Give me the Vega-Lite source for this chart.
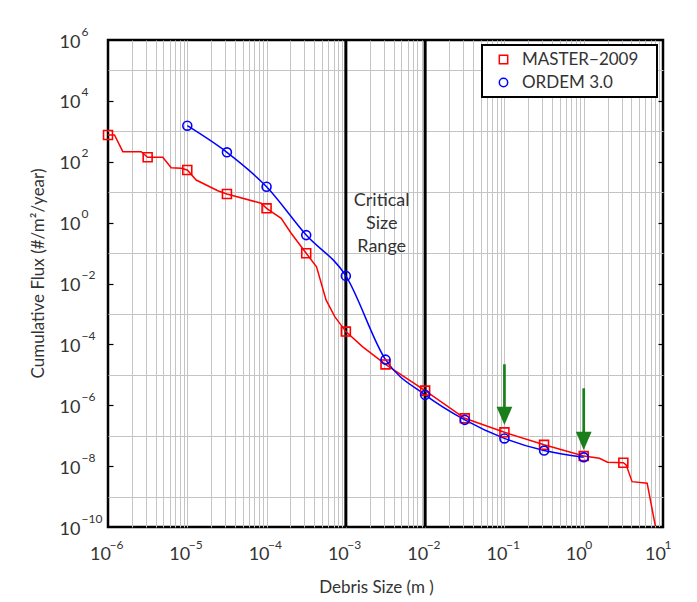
{
  "$schema": "https://vega.github.io/schema/vega-lite/v6.json",
  "width": 555,
  "height": 487,
  "autosize": {"type": "none"},
  "padding": {"left": 108, "top": 40, "right": 34, "bottom": 75},
  "background": "white",
  "config": {
    "view": {"stroke": "black", "strokeWidth": 2.5},
    "font": "Lato",
    "axis": {
      "labelFont": "Lato", "titleFont": "Lato", "labelColor": "#333333", "titleColor": "#333333",
      "gridColor": "#c4c4c4", "gridWidth": 1, "domain": false, "ticks": false,
      "labelFlush": false, "labelOverlap": false, "titleFontWeight": "normal",
      "titleFontSize": 17, "labelFontSize": 18
    },
    "legend": {"strokeWidth": 2}
  },
  "datasets": {
    "flux": [
      {"series": "MASTER−2009", "size": 1e-6, "flux": 759, "marker": true},
      {"series": "MASTER−2009", "size": 1.208e-6, "flux": 759, "marker": false},
      {"series": "MASTER−2009", "size": 1.538e-6, "flux": 213.8, "marker": false},
      {"series": "MASTER−2009", "size": 2.624e-6, "flux": 213.8, "marker": false},
      {"series": "MASTER−2009", "size": 3.162e-6, "flux": 140.3, "marker": true},
      {"series": "MASTER−2009", "size": 4.909e-6, "flux": 140.3, "marker": false},
      {"series": "MASTER−2009", "size": 6.266e-6, "flux": 63.8, "marker": false},
      {"series": "MASTER−2009", "size": 8.375e-6, "flux": 61.0, "marker": false},
      {"series": "MASTER−2009", "size": 1e-5, "flux": 53.7, "marker": true},
      {"series": "MASTER−2009", "size": 1.294e-5, "flux": 25.1, "marker": false},
      {"series": "MASTER−2009", "size": 2.427e-5, "flux": 11.2, "marker": false},
      {"series": "MASTER−2009", "size": 3.162e-5, "flux": 8.71, "marker": true},
      {"series": "MASTER−2009", "size": 8.551e-5, "flux": 4.32, "marker": false},
      {"series": "MASTER−2009", "size": 1e-4, "flux": 2.95, "marker": true},
      {"series": "MASTER−2009", "size": 1.528e-4, "flux": 1.38, "marker": false},
      {"series": "MASTER−2009", "size": 2.042e-4, "flux": 0.447, "marker": false},
      {"series": "MASTER−2009", "size": 3.162e-4, "flux": 0.0984, "marker": true},
      {"series": "MASTER−2009", "size": 4.266e-4, "flux": 0.0355, "marker": false},
      {"series": "MASTER−2009", "size": 5.623e-4, "flux": 0.00288, "marker": false},
      {"series": "MASTER−2009", "size": 7.244e-4, "flux": 0.000813, "marker": false},
      {"series": "MASTER−2009", "size": 1e-3, "flux": 0.000263, "marker": true},
      {"series": "MASTER−2009", "size": 1.633e-3, "flux": 8.32e-5, "marker": false},
      {"series": "MASTER−2009", "size": 3.162e-3, "flux": 2.19e-5, "marker": true},
      {"series": "MASTER−2009", "size": 1e-2, "flux": 3.02e-6, "marker": true},
      {"series": "MASTER−2009", "size": 3.162e-2, "flux": 3.72e-7, "marker": true},
      {"series": "MASTER−2009", "size": 0.1, "flux": 1.29e-7, "marker": true},
      {"series": "MASTER−2009", "size": 0.3162, "flux": 5.01e-8, "marker": true},
      {"series": "MASTER−2009", "size": 1, "flux": 2.14e-8, "marker": true},
      {"series": "MASTER−2009", "size": 1.578, "flux": 1.82e-8, "marker": false},
      {"series": "MASTER−2009", "size": 1.995, "flux": 1.35e-8, "marker": false},
      {"series": "MASTER−2009", "size": 3.162, "flux": 1.29e-8, "marker": true},
      {"series": "MASTER−2009", "size": 3.428, "flux": 1.10e-8, "marker": false},
      {"series": "MASTER−2009", "size": 4.074, "flux": 3.09e-9, "marker": false},
      {"series": "MASTER−2009", "size": 6.31, "flux": 2.75e-9, "marker": false},
      {"series": "MASTER−2009", "size": 8.017, "flux": 1.07e-10, "marker": false},
      {"series": "ORDEM 3.0", "size": 1e-5, "flux": 1531, "marker": true},
      {"series": "ORDEM 3.0", "size": 3.162e-5, "flux": 204.2, "marker": true},
      {"series": "ORDEM 3.0", "size": 1e-4, "flux": 15.1, "marker": true},
      {"series": "ORDEM 3.0", "size": 3.162e-4, "flux": 0.389, "marker": true},
      {"series": "ORDEM 3.0", "size": 1e-3, "flux": 0.0178, "marker": true},
      {"series": "ORDEM 3.0", "size": 3.162e-3, "flux": 3.16e-5, "marker": true},
      {"series": "ORDEM 3.0", "size": 1e-2, "flux": 2.19e-6, "marker": true},
      {"series": "ORDEM 3.0", "size": 3.162e-2, "flux": 3.31e-7, "marker": true},
      {"series": "ORDEM 3.0", "size": 0.1, "flux": 8.13e-8, "marker": true},
      {"series": "ORDEM 3.0", "size": 0.3162, "flux": 3.24e-8, "marker": true},
      {"series": "ORDEM 3.0", "size": 1, "flux": 1.95e-8, "marker": true}
    ],
    "critical": [{"size": 0.001}, {"size": 0.01}],
    "arrows": [
      {"size": 0.1, "top": 2.22e-5, "head": 4.5e-7},
      {"size": 1, "top": 3.61e-6, "head": 6.79e-8}
    ],
    "notes": [{"size": 0.00283, "flux": 5.1, "label": "Critical\nSize\nRange"}]
  },
  "resolve": {"axis": {"x": "independent", "y": "independent"}},
  "layer": [
    {
      "data": {"name": "critical"},
      "mark": {"type": "rule", "color": "black", "strokeWidth": 3},
      "encoding": {
        "x": {"field": "size", "type": "quantitative",
          "scale": {"type": "log", "domain": [1e-6, 10], "nice": false},
          "axis": {"orient": "bottom", "grid": true, "labels": false, "ticks": false, "domain": false, "title": null, "zindex": 0,
            "values": [2e-6,3e-6,4e-6,5e-6,6e-6,7e-6,8e-6,9e-6,1e-5,2e-5,3e-5,4e-5,5e-5,6e-5,7e-5,8e-5,9e-5,1e-4,2e-4,3e-4,4e-4,5e-4,6e-4,7e-4,8e-4,9e-4,1e-3,2e-3,3e-3,4e-3,5e-3,6e-3,7e-3,8e-3,9e-3,1e-2,2e-2,3e-2,4e-2,5e-2,6e-2,7e-2,8e-2,9e-2,0.1,0.2,0.3,0.4,0.5,0.6,0.7,0.8,0.9,1,2,3,4,5,6,7,8,9]}}
      }
    },
    {
      "data": {"name": "flux"},
      "transform": [{"filter": {"field": "series", "equal": "MASTER−2009"}}],
      "mark": {"type": "line", "color": "#ff0000", "strokeWidth": 1.5, "interpolate": "linear"},
      "encoding": {
        "x": {"field": "size", "type": "quantitative",
          "scale": {"type": "log", "domain": [1e-6, 10], "nice": false},
          "axis": {"orient": "bottom", "values": [1e-6,1e-5,1e-4,1e-3,1e-2,0.1,1,10], "labelExpr": "'10'",
            "labelFontSize": 18, "labelAlign": "center", "labelBaseline": "middle", "labelPadding": 27, "labelOffset": -8,
            "grid": false, "title": "Debris Size (m )", "titleFontSize": 17, "titleX": 268, "titleY": 60,
            "titleBaseline": "middle", "titleAlign": "center", "zindex": 1}},
        "y": {"field": "flux", "type": "quantitative",
          "scale": {"type": "log", "domain": [1e-10, 1e6], "nice": false},
          "axis": {"orient": "left", "values": [1e5,1e4,1e3,1e2,1e1,1,0.1,1e-2,1e-3,1e-4,1e-5,1e-6,1e-7,1e-8,1e-9],
            "grid": true,
            "gridOpacity": {"condition": {"test": "round(log(datum.value)/LN10) % 2 != 0", "value": 1}, "value": 0},
            "ticks": true, "tickSize": -5, "tickColor": "black", "tickWidth": 1.2,
            "tickOpacity": {"condition": {"test": "round(log(datum.value)/LN10) % 2 == 0", "value": 1}, "value": 0},
            "labels": false, "domain": false, "title": null, "zindex": 0}}
      }
    },
    {
      "data": {"name": "flux"},
      "transform": [{"filter": {"field": "series", "equal": "ORDEM 3.0"}}],
      "mark": {"type": "line", "color": "#0000ff", "strokeWidth": 1.5, "interpolate": "monotone"},
      "encoding": {
        "x": {"field": "size", "type": "quantitative",
          "scale": {"type": "log", "domain": [1e-6, 10], "nice": false},
          "axis": {"orient": "bottom", "values": [1e-6,1e-5,1e-4,1e-3,1e-2,0.1,1,10],
            "labelExpr": "format(log(datum.value)/LN10,'d')",
            "labelFontSize": 12, "labelAlign": "left", "labelBaseline": "middle", "labelPadding": 17, "labelOffset": 1,
            "grid": false, "title": null, "zindex": 1}},
        "y": {"field": "flux", "type": "quantitative",
          "scale": {"type": "log", "domain": [1e-10, 1e6], "nice": false},
          "axis": {"orient": "left", "values": [1e6,1e4,1e2,1,1e-2,1e-4,1e-6,1e-8,1e-10], "labelExpr": "'10'",
            "labelFontSize": 18, "labelAlign": "right", "labelBaseline": "middle", "labelPadding": 28, "labelOffset": 2,
            "grid": false, "title": "Cumulative Flux (#/m²/year)", "titleFontSize": 17, "titleX": -70, "titleY": 233,
            "titleAngle": 270, "titleAlign": "center", "titleBaseline": "middle", "zindex": 1}}
      }
    },
    {
      "data": {"name": "flux"},
      "transform": [{"filter": "datum.marker"}],
      "mark": {"type": "point", "filled": false, "size": 80, "strokeWidth": 1.6, "opacity": 1},
      "encoding": {
        "x": {"field": "size", "type": "quantitative",
          "scale": {"type": "log", "domain": [1e-6, 10], "nice": false}, "axis": null},
        "y": {"field": "flux", "type": "quantitative",
          "scale": {"type": "log", "domain": [1e-10, 1e6], "nice": false},
          "axis": {"orient": "left", "values": [1e6,1e4,1e2,1,1e-2,1e-4,1e-6,1e-8,1e-10],
            "labelExpr": "format(log(datum.value)/LN10,'d')",
            "labelFontSize": 12, "labelAlign": "left", "labelBaseline": "middle", "labelPadding": 27, "labelOffset": -9,
            "grid": false, "title": null, "zindex": 1}},
        "color": {"field": "series", "type": "nominal",
          "scale": {"domain": ["MASTER−2009", "ORDEM 3.0"], "range": ["#ff0000", "#0000ff"]},
          "legend": {"title": null, "orient": "none", "legendX": 374, "legendY": 5, "strokeColor": "black", "fillColor": "white",
            "padding": 6, "symbolOffset": 7, "labelFontSize": 17, "labelFont": "Lato", "labelColor": "#333333",
            "symbolStrokeWidth": 1.5, "symbolSize": 70, "rowPadding": 5, "labelOffset": 10,
            "labelExpr": "datum.label + '\u2800'"}},
        "shape": {"field": "series", "type": "nominal",
          "scale": {"domain": ["MASTER−2009", "ORDEM 3.0"], "range": ["square", "circle"]},
          "legend": {"title": null, "orient": "none", "legendX": 374, "legendY": 5, "strokeColor": "black", "fillColor": "white",
            "padding": 6, "symbolOffset": 7, "labelFontSize": 17, "labelFont": "Lato", "labelColor": "#333333",
            "symbolStrokeWidth": 1.5, "symbolSize": 70, "rowPadding": 5, "labelOffset": 10,
            "labelExpr": "datum.label + '\u2800'"}}
      }
    },
    {
      "data": {"name": "arrows"},
      "mark": {"type": "rule", "color": "#1a7f1a", "strokeWidth": 2.7},
      "encoding": {
        "x": {"field": "size", "type": "quantitative",
          "scale": {"type": "log", "domain": [1e-6, 10], "nice": false}, "axis": null},
        "y": {"field": "top", "type": "quantitative",
          "scale": {"type": "log", "domain": [1e-10, 1e6], "nice": false},
          "axis": {"orient": "right", "values": [1e6,1e4,1e2,1,1e-2,1e-4,1e-6,1e-8,1e-10], "labels": false,
            "ticks": true, "tickSize": -5, "tickColor": "black", "tickWidth": 1.2, "domain": false, "grid": false,
            "title": null, "zindex": 1}},
        "y2": {"field": "head"}
      }
    },
    {
      "data": {"name": "arrows"},
      "mark": {"type": "point", "shape": "M0,1L-0.86,-1L0.86,-1Z", "filled": true, "color": "#1a7f1a", "size": 335, "opacity": 1},
      "encoding": {
        "x": {"field": "size", "type": "quantitative",
          "scale": {"type": "log", "domain": [1e-6, 10], "nice": false}, "axis": null},
        "y": {"field": "head", "type": "quantitative",
          "scale": {"type": "log", "domain": [1e-10, 1e6], "nice": false}, "axis": null}
      }
    },
    {
      "data": {"name": "notes"},
      "mark": {"type": "text", "font": "Lato", "fontSize": 18, "color": "#333333", "align": "center", "baseline": "middle",
        "lineBreak": "\n", "lineHeight": 23},
      "encoding": {
        "x": {"field": "size", "type": "quantitative",
          "scale": {"type": "log", "domain": [1e-6, 10], "nice": false}, "axis": null},
        "y": {"field": "flux", "type": "quantitative",
          "scale": {"type": "log", "domain": [1e-10, 1e6], "nice": false}, "axis": null},
        "text": {"field": "label"}
      }
    }
  ]
}
